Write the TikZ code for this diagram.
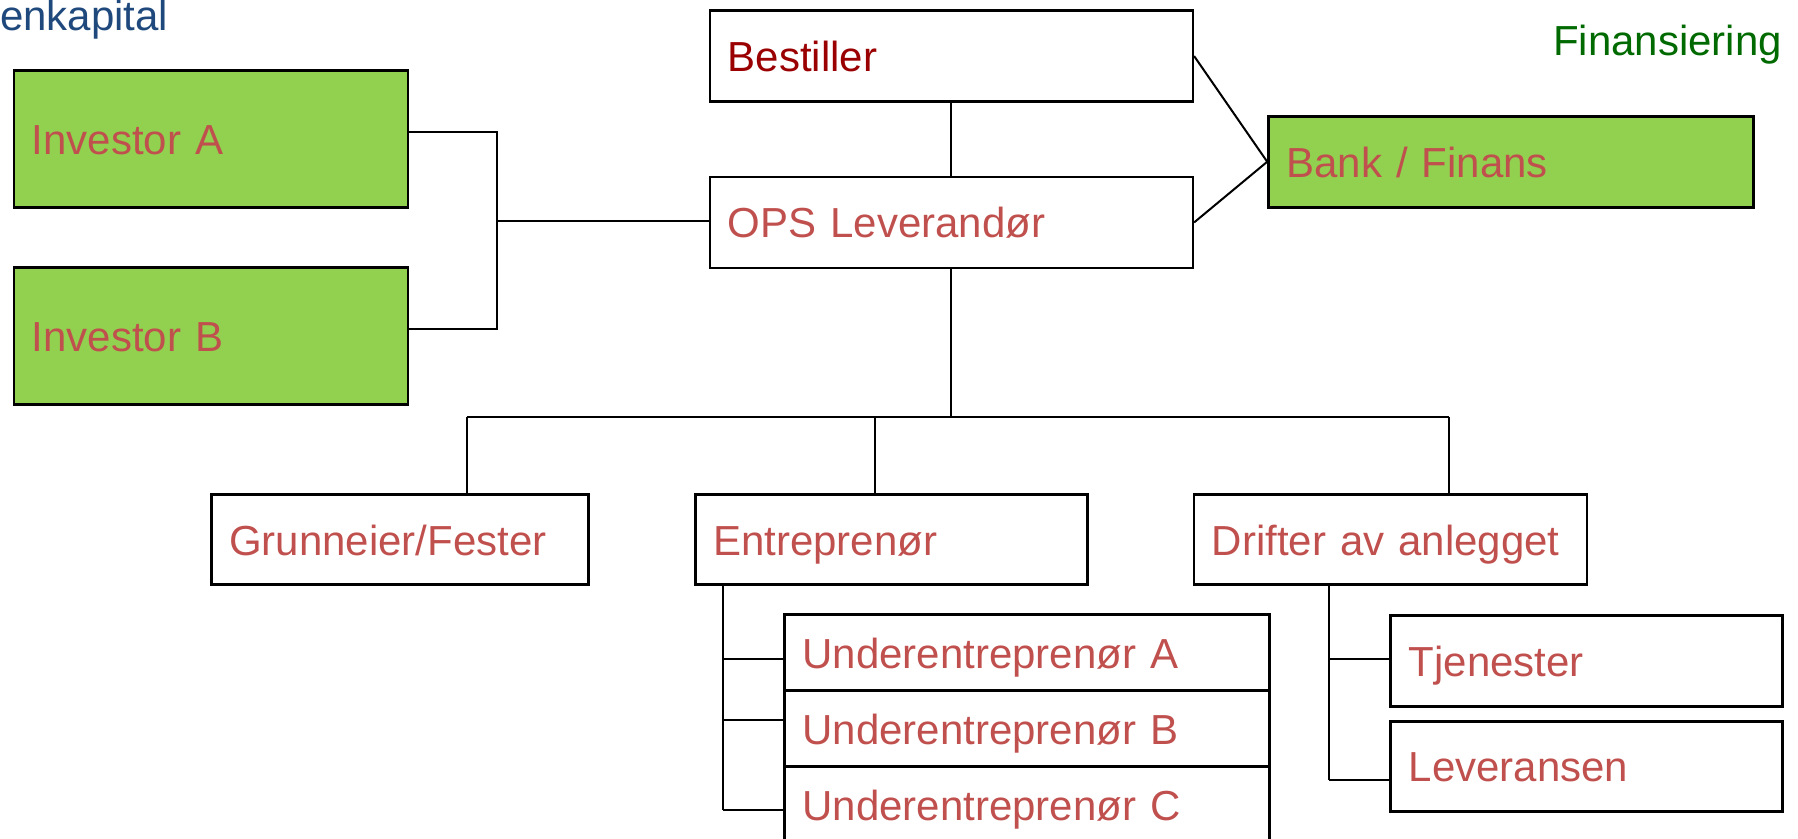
\documentclass[tikz,border=0pt]{standalone}
\usepackage{fontspec}
\setmainfont{Liberation Sans}
\definecolor{txtred}{HTML}{C0504D}
\definecolor{darkred}{HTML}{9A0000}
\definecolor{fillgreen}{HTML}{92D050}
\definecolor{titlegreen}{HTML}{006A00}
\definecolor{titleblue}{HTML}{1F497D}
\begin{document}
\begin{tikzpicture}[x=1pt,y=-1pt,
  box/.style={draw, line width=2.5pt, inner xsep=18pt, inner ysep=0pt, anchor=north west,
    align=left, text height=31pt, text depth=0pt, text=txtred,
    font=\fontsize{42}{48}\selectfont},
  gbox/.style={box, fill=fillgreen},
  conn/.style={draw, line width=2pt},
  title/.style={inner sep=0pt, font=\fontsize{42}{48}\selectfont}]
\useasboundingbox (0,0) rectangle (1798,838);

% titles
\node[title, text=titleblue, anchor=base west] (tEgen) at (0,30.7) {enkapital};
\node[title, text=titlegreen, anchor=base east] (tFin) at (1782,55) {Finansiering};

% boxes
\node[gbox, minimum width=394, minimum height=137, text width=358] (invA) at (12.5,69.3) {Investor A};
\node[gbox, minimum width=394, minimum height=137, text width=358] (invB) at (12.5,266) {Investor B};
\node[box, text=darkred, minimum width=483, minimum height=91, text width=447] (best) at (708.6,9.3) {Bestiller};
\node[box, minimum width=483, minimum height=91, text width=447] (ops) at (708.6,175.7) {OPS Leverandør};
\node[gbox, minimum width=485, minimum height=91, text width=449] (bank) at (1267.2,115) {Bank / Finans};
\node[box, minimum width=377, minimum height=90, text width=341] (grun) at (210,493.3) {Grunneier/Fester};
\node[box, minimum width=392, minimum height=90, text width=356] (entr) at (694,493.3) {Entreprenør};
\node[box, minimum width=393, minimum height=90, text width=357] (drift) at (1192.5,493.3) {Drifter av anlegget};
\node[box, minimum width=485, minimum height=76, text width=449] (ua) at (783.2,613.3) {Underentreprenør A};
\node[box, minimum width=485, minimum height=76, text width=449] (ub) at (783.2,689.3) {Underentreprenør B};
\node[box, minimum width=485, minimum height=76, text width=449] (uc) at (783.2,765.3) {Underentreprenør C};
\node[box, minimum width=392, minimum height=91, text width=356] (tjen) at (1389.4,614) {Tjenester};
\node[box, minimum width=392, minimum height=90, text width=356] (lev) at (1389.4,720) {Leveransen};

% connector points
\coordinate (jInv) at (497,221);
\coordinate (bus) at (950.2,417.3);
\coordinate (bG) at (467,417.3);
\coordinate (bE) at (875.2,417.3);
\coordinate (bD) at (1449.4,417.3);
\coordinate (e1) at (723.3,659);
\coordinate (e2) at (723.3,720.3);
\coordinate (e3) at (723.3,810);
\coordinate (d1) at (1328.6,659);
\coordinate (d2) at (1328.6,780);

% connectors
\draw[conn] ([yshift=7pt]invA.east) -| (jInv) |- ([yshift=7pt]invB.east);
\draw[conn] (jInv) -- (jInv -| ops.west);
\draw[conn] (best.south) -- (ops.north);
\draw[conn] (best.east) -- (bank.west);
\draw[conn] (ops.east) -- (bank.west);
\draw[conn] (ops.south) -- (ops.south |- bus);
\draw[conn] (bG) -- (bD);
\draw[conn] (bG) -- (bG |- grun.north);
\draw[conn] (bE) -- (bE |- entr.north);
\draw[conn] (bD) -- (bD |- drift.north);
\draw[conn] (e1 |- entr.south) -- (e3);
\draw[conn] (e1) -- (e1 -| ua.west);
\draw[conn] (e2) -- (e2 -| ub.west);
\draw[conn] (e3) -- (e3 -| uc.west);
\draw[conn] (d1 |- drift.south) -- (d2);
\draw[conn] (d1) -- (d1 -| tjen.west);
\draw[conn] (d2) -- (d2 -| lev.west);
\end{tikzpicture}
\end{document}
